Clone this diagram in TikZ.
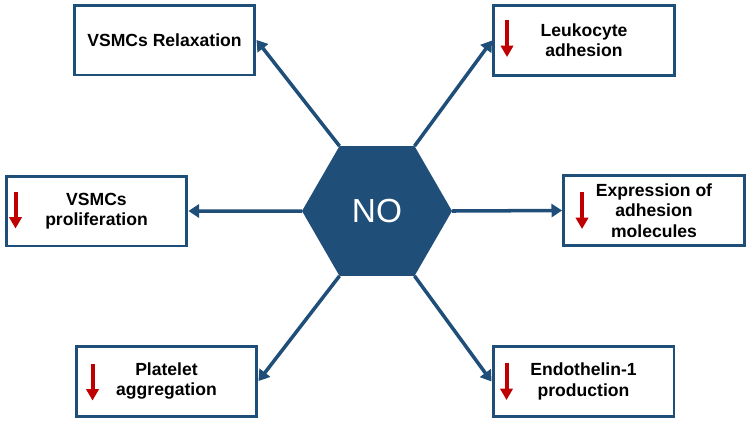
\documentclass[tikz,border=0pt]{standalone}
\usepackage{fontspec}
\setmainfont{Liberation Sans}
\usetikzlibrary{shapes.geometric, arrows.meta}
\definecolor{noblue}{RGB}{31,78,121}
\definecolor{downred}{RGB}{192,0,0}
\begin{document}
\begin{tikzpicture}[x=0.02cm, y=-0.02cm]
    \tikzstyle{hexa} = [regular polygon, regular polygon sides=6, fill=noblue,
    minimum size=3cm, inner sep=0pt, outer sep=0pt, text=white,
    font=\fontsize{19}{22}\selectfont];
    \tikzstyle{effect} = [draw=noblue, line width=1.7pt, rectangle, fill=white,
    minimum width=3.62cm, minimum height=1.4cm, align=center,
    font=\fontsize{10}{11.6}\selectfont\bfseries];
    \tikzstyle{line} = [draw=noblue, line width=2pt, -{Triangle[length=6pt,width=7.5pt]}];
    \tikzstyle{drop} = [draw=downred, line width=2.3pt, -{Triangle[length=6.5pt,width=7pt]}];
    \useasboundingbox (0,0) rectangle (753,424);
    \node [hexa] (no) at (377,211) {NO};
    \node [effect] (rx) at (164.5,40) {VSMCs Relaxation};
    \node [effect] (lk) at (584,40.5) {Leukocyte\\adhesion};
    \node [effect] (vp) at (96.5,211) {VSMCs\\proliferation};
    \node [effect] (ex) at (654,210.5) {Expression of\\adhesion\\molecules};
    \node [effect] (pl) at (166.5,381) {Platelet\\aggregation};
    \node [effect] (en) at (583.5,381.5) {Endothelin-1\\production};
    \draw[line] (no.120) -- (rx.east);
    \draw[line] (no.60) -- (lk.west);
    \draw[line] (no.180) -- (vp.east);
    \draw[line] (no.0) -- (ex.west);
    \draw[line] (no.240) -- (pl.east);
    \draw[line] (no.300) -- (en.west);
    % red arrows: decrease
    \draw[drop] (lk.north west) ++(15,16) -- ++(0,37);
    \draw[drop] (vp.north west) ++(11,17) -- ++(0,37);
    \draw[drop] (ex.north west) ++(20,18) -- ++(0,37);
    \draw[drop] (pl.north west) ++(18,19) -- ++(0,37);
    \draw[drop] (en.north west) ++(15,18) -- ++(0,37);
\end{tikzpicture}
\end{document}
